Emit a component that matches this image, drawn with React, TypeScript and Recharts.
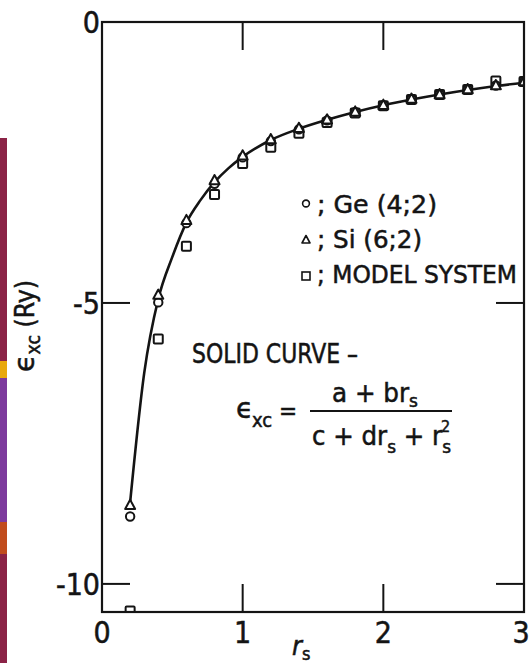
import { ComposedChart, Line, Scatter, XAxis, YAxis } from 'recharts'

const W = 531
const H = 663
const INK = '#141414'
const FONT = '"Liberation Sans Narrow", "DejaVu Sans Condensed", "Liberation Sans", Arial, sans-serif'
const GREEK = '"DejaVu Sans", "Liberation Sans", sans-serif'

// r_s values where the three data sets were computed
const rsPoints = [0.2, 0.4, 0.6, 0.8, 1.0, 1.2, 1.4, 1.6, 1.8, 2.0, 2.2, 2.4, 2.6, 2.8, 3.0]
const geEps = [-8.8, -4.99, -3.58, -2.88, -2.41, -2.12, -1.91, -1.75, -1.6, -1.48, -1.37, -1.29, -1.2, -1.13, -1.06]
const siEps = [-8.6, -4.86, -3.53, -2.82, -2.38, -2.09, -1.89, -1.74, -1.6, -1.48, -1.37, -1.29, -1.2, -1.13, -1.06]
const modelEps = [-10.48, -5.64, -3.99, -3.07, -2.52, -2.23, -1.98, -1.79, -1.62, -1.49, -1.38, -1.29, -1.2, -1.05, -1.06]

// fitted curve a + b rs / (c + d rs + rs^2)
const curveRs = [0.2, 0.3, 0.4, 0.5, 0.6, 0.7, 0.8, 0.9, 1.0, 1.2, 1.4, 1.6, 1.8, 2.0, 2.2, 2.4, 2.6, 2.8, 3.0]
const curveEps = [-8.55, -6.25, -4.93, -4.18, -3.57, -3.17, -2.85, -2.6, -2.4, -2.1, -1.9, -1.74, -1.6, -1.48, -1.38, -1.29, -1.21, -1.14, -1.08]

const X_MIN = 0
const X_MAX = 3
const Y_MIN = -10.5
const Y_MAX = 0
const xTickValues = [0, 1, 2, 3]
const yTickValues = [0, -5, -10]
const innerXTicks = [1, 2]
const innerYTicks = [-5, -10]

// side strip colours (top to bottom)
const stripBands = [
  { from: 138, to: 361, color: '#8b2346' },
  { from: 361, to: 378, color: '#e9a80c' },
  { from: 378, to: 522, color: '#7d3a9d' },
  { from: 522, to: 554, color: '#c14c1d' },
  { from: 554, to: 663, color: '#8b2346' },
]

const toPoints = (xs: number[], ys: number[]) => xs.map((x, i) => ({ x, y: ys[i] }))

const geData = toPoints(rsPoints, geEps)
const siData = toPoints(rsPoints, siEps)
const modelData = toPoints(rsPoints, modelEps)
const curveData = toPoints(curveRs, curveEps)

const MARGIN = { top: 22, right: 7, bottom: 11, left: 0 }
const Y_AXIS_W = 102
const X_AXIS_H = 40
const PLOT_L = MARGIN.left + Y_AXIS_W
const PLOT_T = MARGIN.top
const PLOT_W = W - MARGIN.left - MARGIN.right - Y_AXIS_W
const PLOT_H = H - MARGIN.top - MARGIN.bottom - X_AXIS_H
const PLOT_R = PLOT_L + PLOT_W
const TICK_LEN = 28

// same linear mapping the axes use, for the top/right sides of the box
const px = (v: number) => PLOT_L + ((v - X_MIN) / (X_MAX - X_MIN)) * PLOT_W
const py = (v: number) => PLOT_T + ((Y_MAX - v) / (Y_MAX - Y_MIN)) * PLOT_H

function BottomTick({ x, y, payload }: any) {
  const v = payload.value as number
  return (
    <g stroke={INK} strokeWidth={2}>
      {innerXTicks.includes(v) && <line x1={x} y1={y} x2={x} y2={y - TICK_LEN} />}
      <text
        x={v === X_MAX ? x - 3 : x}
        y={y + 31}
        textAnchor="middle"
        fontSize={30}
        fontFamily={FONT}
        fill={INK}
        stroke={INK}
        strokeWidth={0.5}
      >
        {v}
      </text>
    </g>
  )
}

function LeftTick({ x, y, payload }: any) {
  const v = payload.value as number
  return (
    <g stroke={INK} strokeWidth={2}>
      {innerYTicks.includes(v) && <line x1={x} y1={y} x2={x + TICK_LEN} y2={y} />}
      <text
        x={x - 2}
        y={y + 11}
        textAnchor="end"
        fontSize={30}
        fontFamily={FONT}
        fill={INK}
        stroke={INK}
        strokeWidth={0.5}
      >
        {v < 0 ? `-${Math.abs(v)}` : v}
      </text>
    </g>
  )
}

function OpenCircle({ cx, cy }: any) {
  return <circle cx={cx} cy={cy} r={4.2} fill="#fff" stroke={INK} strokeWidth={2} />
}

function OpenTriangle({ cx, cy }: any) {
  const s = 5
  return (
    <polygon
      points={`${cx},${cy - s - 0.5} ${cx - s},${cy + s * 0.75} ${cx + s},${cy + s * 0.75}`}
      fill="#fff"
      stroke={INK}
      strokeWidth={2}
      strokeLinejoin="round"
    />
  )
}

function OpenSquare({ cx, cy }: any) {
  return <rect x={cx - 4.5} y={cy - 4.5} width={9} height={9} fill="#fff" stroke={INK} strokeWidth={2} rx={1} />
}

const textInk = { fill: INK, stroke: INK, strokeWidth: 0.5 }

function Frame() {
  return (
    <svg width={W} height={H} style={{ position: 'absolute', left: 0, top: 0, pointerEvents: 'none' }}>
      <rect x={PLOT_L} y={PLOT_T} width={PLOT_W} height={PLOT_H} fill="none" stroke={INK} strokeWidth={2.2} />
      {innerXTicks.map((t) => (
        <line key={`t${t}`} x1={px(t)} y1={PLOT_T} x2={px(t)} y2={PLOT_T + TICK_LEN} stroke={INK} strokeWidth={2} />
      ))}
      {innerYTicks.map((t) => (
        <line key={`r${t}`} x1={PLOT_R} y1={py(t)} x2={PLOT_R - TICK_LEN} y2={py(t)} stroke={INK} strokeWidth={2} />
      ))}
    </svg>
  )
}

function Annotations() {
  return (
    <svg width={W} height={H} style={{ position: 'absolute', left: 0, top: 0, pointerEvents: 'none' }}>
      <g {...textInk}>
        {/* y axis title */}
        <text transform="rotate(-90)" x={-372} y={34} fontFamily={FONT} fontSize={26} textLength={92} lengthAdjust="spacingAndGlyphs">
          <tspan fontFamily={GREEK} fontSize={28}>ϵ</tspan>
          <tspan fontSize={19} dy={6}>xc</tspan>
          <tspan dy={-6}> (Ry)</tspan>
        </text>

        {/* x axis title */}
        <text x={292} y={655} fontFamily={FONT} fontSize={27} fontStyle="italic">
          r
        </text>
        <text x={302} y={660} fontFamily={FONT} fontSize={18}>
          s
        </text>

        {/* legend */}
        <text x={317} y={213} fontFamily={FONT} fontSize={25} textLength={120} lengthAdjust="spacingAndGlyphs">
          ; Ge (4;2)
        </text>
        <text x={317} y={248} fontFamily={FONT} fontSize={25} textLength={105} lengthAdjust="spacingAndGlyphs">
          ; Si (6;2)
        </text>
        <text x={317} y={283} fontFamily={FONT} fontSize={25} textLength={200} lengthAdjust="spacingAndGlyphs">
          ; MODEL SYSTEM
        </text>

        {/* curve formula */}
        <text x={192} y={363} fontFamily={FONT} fontSize={27} textLength={166} lengthAdjust="spacingAndGlyphs">
          SOLID CURVE –
        </text>
        <text x={236} y={418} fontFamily={GREEK} fontSize={28}>
          ϵ
        </text>
        <text x={252} y={427} fontFamily={FONT} fontSize={20}>
          xc
        </text>
        <text x={279} y={419} fontFamily={FONT} fontSize={24}>
          =
        </text>
        <text x={332} y={402} fontFamily={FONT} fontSize={26} textLength={86} lengthAdjust="spacingAndGlyphs">
          a + br<tspan fontSize={18} dy={5}>s</tspan>
        </text>
        <text x={312} y={445} fontFamily={FONT} fontSize={26} textLength={139} lengthAdjust="spacingAndGlyphs">
          c + dr<tspan fontSize={18} dy={8}>s</tspan>
          <tspan dy={-8}> + r</tspan>
          <tspan fontSize={18} dy={8}>s</tspan>
        </text>
        <text x={441} y={432} fontFamily={FONT} fontSize={16}>
          2
        </text>
      </g>
      <line x1={310} y1={411} x2={452} y2={411} stroke={INK} strokeWidth={2} />

      {/* legend markers */}
      <circle cx={306} cy={203.5} r={3.4} fill="#fff" stroke={INK} strokeWidth={1.6} />
      <polygon points="306,235.5 302,243 310,243" fill="#fff" stroke={INK} strokeWidth={1.6} strokeLinejoin="round" />
      <rect x={302} y={272} width={8} height={8} fill="#fff" stroke={INK} strokeWidth={1.6} />
    </svg>
  )
}

export default function App() {
  return (
    <div style={{ position: 'absolute', left: 0, top: 0, width: W, height: H, background: '#fff' }}>
      {stripBands.map((b) => (
        <div
          key={b.from}
          style={{ position: 'absolute', left: 0, top: b.from, width: 7, height: b.to - b.from, background: b.color }}
        />
      ))}
      <ComposedChart width={W} height={H} margin={MARGIN}>
        <XAxis
          dataKey="x"
          type="number"
          domain={[X_MIN, X_MAX]}
          allowDataOverflow
          ticks={xTickValues}
          interval={0}
          height={X_AXIS_H}
          tickSize={0}
          tickMargin={0}
          tickLine={false}
          tick={BottomTick}
          axisLine={{ stroke: INK, strokeWidth: 2 }}
        />
        <YAxis
          dataKey="y"
          type="number"
          domain={[Y_MIN, Y_MAX]}
          allowDataOverflow
          ticks={yTickValues}
          interval={0}
          width={Y_AXIS_W}
          tickSize={0}
          tickMargin={0}
          tickLine={false}
          tick={LeftTick}
          axisLine={{ stroke: INK, strokeWidth: 2 }}
        />
        <Line
          data={curveData}
          dataKey="y"
          type="monotone"
          stroke={INK}
          strokeWidth={2.6}
          dot={false}
          activeDot={false}
          isAnimationActive={false}
        />
        <Scatter data={modelData} dataKey="y" shape={OpenSquare} isAnimationActive={false} />
        <Scatter data={geData} dataKey="y" shape={OpenCircle} isAnimationActive={false} />
        <Scatter data={siData} dataKey="y" shape={OpenTriangle} isAnimationActive={false} />
      </ComposedChart>
      <Frame />
      <Annotations />
    </div>
  )
}
